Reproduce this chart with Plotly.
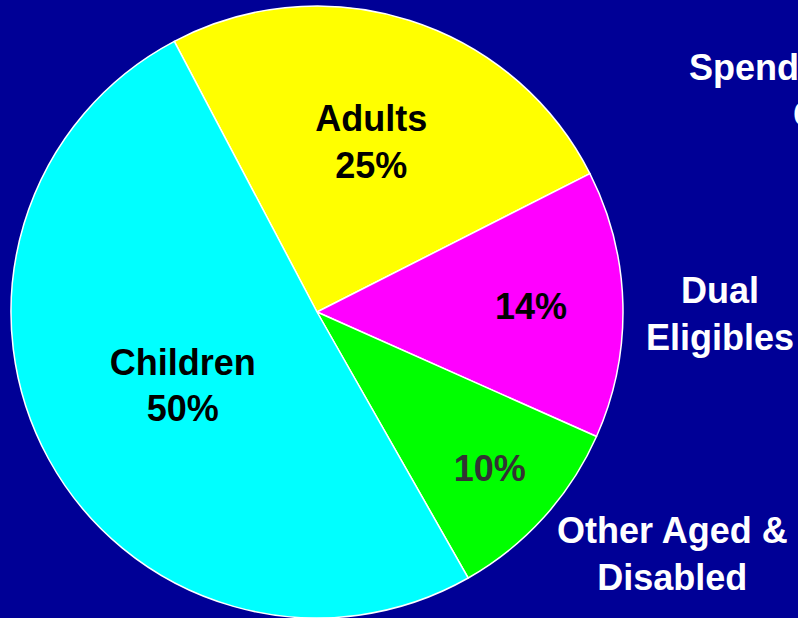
import plotly.graph_objects as go

# Enrollment groups, in clockwise order starting from the top-left
groups = ["Adults", "Dual Eligibles", "Other Aged & Disabled", "Children"]
shares = [25, 14, 10, 50]
inside_text = ["Adults<br>25%", "14%", "10%", "Children<br>50%"]
slice_colors = ["#FFFF00", "#FF00FF", "#00FF00", "#00FFFF"]
text_colors = ["#000000", "#000000", "#333333", "#000000"]

BG = "#000096"
FONT = "Liberation Sans, Arial, sans-serif"
SIZE = 36

W, H = 798, 618

fig = go.Figure(
    go.Pie(
        labels=groups,
        values=shares,
        text=inside_text,
        texttemplate="%{text}",
        textposition="inside",
        insidetextorientation="horizontal",
        sort=False,
        direction="clockwise",
        rotation=332.2,
        marker=dict(colors=slice_colors, line=dict(color="white", width=1.5)),
        textfont=dict(family=FONT, size=SIZE, color=text_colors, weight="bold"),
        hoverinfo="label+percent",
        showlegend=False,
        domain=dict(x=[11 / W, 623 / W], y=[0, 1 - 6 / H]),
    )
)

side_labels = [
    ("Spending on Care<br>Costs", 843, 91),
    ("Dual<br>Eligibles", 720, 314),
    ("Other Aged &<br>Disabled", 672, 554),
]
for txt, px, py in side_labels:
    fig.add_annotation(
        text=txt,
        x=px / W,
        y=1 - py / H,
        xref="paper",
        yref="paper",
        xanchor="center",
        yanchor="middle",
        showarrow=False,
        align="center",
        font=dict(family=FONT, size=SIZE, color="white", weight="bold"),
    )

fig.update_layout(
    width=W,
    height=H,
    margin=dict(l=0, r=0, t=0, b=0),
    paper_bgcolor=BG,
    plot_bgcolor=BG,
    uniformtext=dict(minsize=SIZE, mode="show"),
)

fig.write_html("out.html")
